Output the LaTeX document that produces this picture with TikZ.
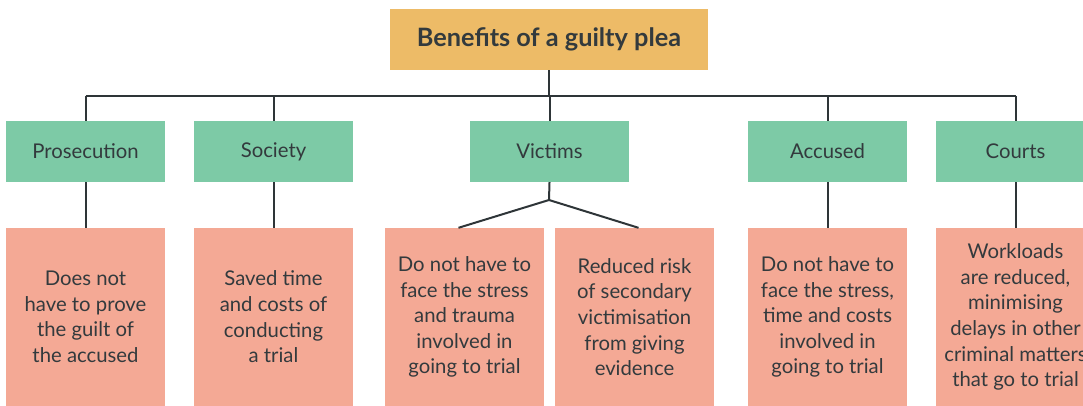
\documentclass[tikz,border=0pt]{standalone}
\usepackage{fontspec}
\setmainfont{Lato}
\definecolor{titlefill}{HTML}{EDBB67}
\definecolor{catfill}{HTML}{7DCAA6}
\definecolor{benfill}{HTML}{F4A995}
\definecolor{linec}{HTML}{2E3538}
\definecolor{textc}{HTML}{333A3D}
\begin{document}
\begin{tikzpicture}[x=1pt,y=-1pt,
  titlebox/.style={fill=titlefill,minimum width=318pt,minimum height=61pt,inner sep=0pt,text=textc,font=\fontsize{25.3}{30}\selectfont\bfseries},
  catbox/.style={fill=catfill,minimum width=159pt,minimum height=61pt,inner sep=0pt,text=textc,font=\fontsize{20.3}{25}\selectfont},
  benbox/.style={fill=benfill,minimum width=159pt,minimum height=178pt,inner sep=0pt,text=textc,align=center,font=\fontsize{20.3}{25.6}\selectfont},
  conn/.style={draw=linec,line width=2pt}]
\useasboundingbox (0,0) rectangle (1083,406);
\clip (0,0) rectangle (1083,406);
\node[titlebox] (title) at (549,39.5) {Benefits of a guilty plea};
\node[catbox] (pros) at (85.5,151.5) {Prosecution};
\node[catbox] (soc) at (273.5,151.5) {Society};
\node[catbox] (vic) at (549.5,151.5) {Victims};
\node[catbox] (acc) at (827.5,151.5) {Accused};
\node[catbox] (crt) at (1015.5,151.5) {Courts};
\node[benbox] (bpros) at (85.5,317) {Does not\\have to prove\\the guilt of\\the accused};
\node[benbox] (bsoc) at (273.5,317) {Saved time\\and costs of\\conducting\\a trial};
\node[benbox] (bvic1) at (464.5,317) {Do not have to\\face the stress\\and trauma\\involved in\\going to trial};
\node[benbox] (bvic2) at (634.5,317) {Reduced risk\\of secondary\\victimisation\\from giving\\evidence};
\node[benbox] (bacc) at (827.5,317) {Do not have to\\face the stress,\\time and costs\\involved in\\going to trial};
\node[benbox] (bcrt) at (1015.5,317) {Workloads\\are reduced,\\minimising\\delays in other\\criminal matters\\that go to trial};
\coordinate (bus) at (549,96);
\coordinate (vj) at (549,200);
\draw[conn] (title.south -| bus) -- (bus);
\draw[conn] (pros.north |- bus) -- (crt.north |- bus);
\foreach \n in {pros,soc,vic,acc,crt}{
  \draw[conn] (\n.north |- bus) -- (\n.north);
}
\draw[conn] (pros.south) -- (bpros.north);
\draw[conn] (soc.south) -- (bsoc.north);
\draw[conn] (acc.south) -- (bacc.north);
\draw[conn] (crt.south) -- (bcrt.north);
\draw[conn] (vic.south) -- (vj);
\draw[conn] (vj) -- ([xshift=-6pt]bvic1.north);
\draw[conn] (vj) -- ([xshift=4pt]bvic2.north);
\end{tikzpicture}
\end{document}
